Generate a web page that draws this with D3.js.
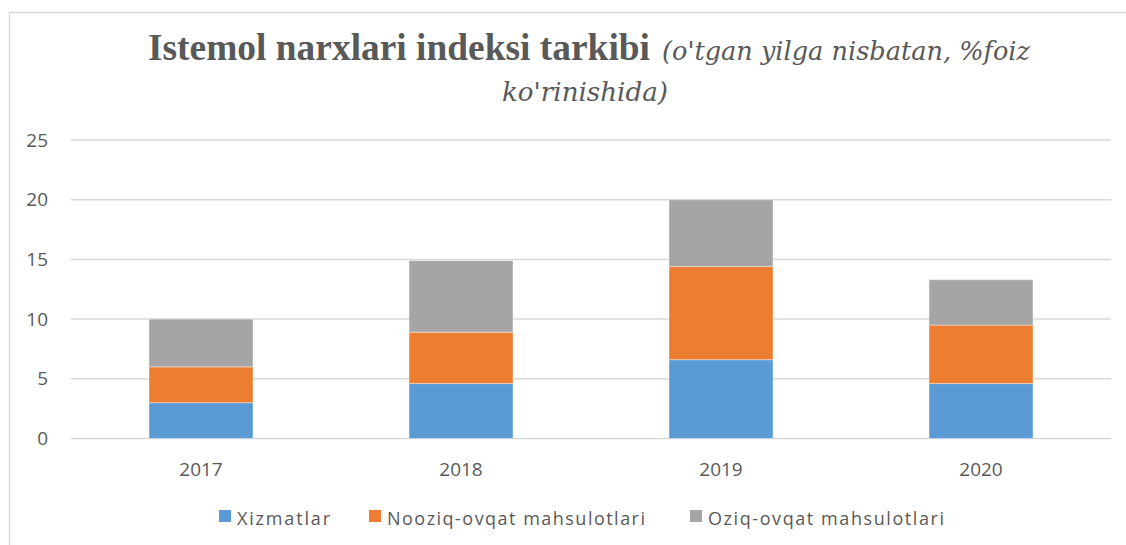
<!DOCTYPE html>
<html>
<head>
<meta charset="utf-8">
<script src="https://cdn.jsdelivr.net/npm/d3@7"></script>
<style>
  body { margin: 0; background: #fff; }
  svg { display: block; }
</style>
</head>
<body>
<div id="chart"></div>
<script>
// Chart data
var years = ["2017", "2018", "2019", "2020"];
var seriesNames = ["Xizmatlar", "Nooziq-ovqat mahsulotlari", "Oziq-ovqat mahsulotlari"];
var xizmatlar = [3.0, 4.6, 6.6, 4.6];
var nooziq = [3.0, 4.3, 7.8, 4.9];
var oziq = [4.0, 6.0, 5.6, 3.8];
var yTickValues = [0, 5, 10, 15, 20, 25];
var colors = ["#5B9BD5", "#ED7D31", "#A5A5A5"];

var width = 1126;
var height = 545;
var textColor = "#595959";
var gridColor = "#d9d9d9";
var serif = "'Liberation Serif', 'Times New Roman', serif";
var italicSerif = "'DejaVu Serif', 'Liberation Serif', serif";
var sans = "'Open Sans', sans-serif";

var svg = d3.select("#chart")
    .append("svg")
        .attr("width", width)
        .attr("height", height);

// chart area border (only top and left visible in the frame)
svg.append("path")
    .attr("d", "M9.5," + height + " V12.5 H" + width)
    .attr("fill", "none")
    .attr("stroke", gridColor)
    .attr("stroke-width", 1.5);

// title: bold part, then the italic part
svg.append("text")
    .attr("x", 148)
    .attr("y", 60)
    .attr("fill", textColor)
    .attr("font-family", serif)
    .attr("font-weight", "bold")
    .attr("font-size", 37)
    .attr("textLength", 502)
    .attr("lengthAdjust", "spacingAndGlyphs")
    .text("Istemol narxlari indeksi tarkibi");

var subtitle = [
    { text: "(o'tgan yilga nisbatan, %foiz", x: 662, y: 60, w: 368 },
    { text: "ko'rinishida)", x: 502, y: 101, w: 166 }
];
svg.selectAll(".subtitle")
    .data(subtitle)
    .enter().append("text")
        .attr("class", "subtitle")
        .attr("x", function(d) { return d.x; })
        .attr("y", function(d) { return d.y; })
        .attr("fill", textColor)
        .style("font-family", italicSerif)
        .style("font-style", "italic")
        .style("font-size", "26px")
        .attr("textLength", function(d) { return d.w; })
        .attr("lengthAdjust", "spacingAndGlyphs")
        .text(function(d) { return d.text; });

// scales
var x = d3.scaleBand()
    .domain(years)
    .range([71, 1111])
    .paddingInner(0.6)
    .paddingOuter(0.3);

var y = d3.scaleLinear()
    .domain([0, 25])
    .range([438.5, 140]);

// gridlines
svg.append("g")
    .selectAll("line")
    .data(yTickValues)
    .enter().append("line")
        .attr("x1", 71)
        .attr("x2", 1111)
        .attr("y1", function(d) { return y(d); })
        .attr("y2", function(d) { return y(d); })
        .attr("stroke", gridColor)
        .attr("stroke-width", 1.5);

// y axis labels
var yAxis = d3.axisLeft(y)
    .tickValues(yTickValues)
    .tickSize(0)
    .tickPadding(0);
var yG = svg.append("g")
    .attr("transform", "translate(48,0)")
    .call(yAxis);
yG.select(".domain").remove();
yG.selectAll("text")
    .attr("fill", textColor)
    .style("font-family", sans)
    .style("font-size", "19px");

// stacked bars
var rows = years.map(function(yr, i) {
    return { year: yr, a: xizmatlar[i], b: nooziq[i], c: oziq[i] };
});
var stack = d3.stack().keys(["a", "b", "c"]);
var layers = stack(rows);

svg.append("g")
    .selectAll("g")
    .data(layers)
    .enter().append("g")
        .attr("fill", function(d, i) { return colors[i]; })
    .selectAll("rect")
    .data(function(d) { return d; })
    .enter().append("rect")
        .attr("x", function(d) { return x(d.data.year); })
        .attr("width", x.bandwidth())
        .attr("y", function(d) { return y(d[1]); })
        .attr("height", function(d) { return y(d[0]) - y(d[1]); })
        .attr("stroke", "#ffffff")
        .attr("stroke-opacity", 0.4)
        .attr("stroke-width", 1);

// x axis labels
var xAxis = d3.axisBottom(x)
    .tickSize(0)
    .tickPadding(0);
var xG = svg.append("g")
    .attr("transform", "translate(0,462)")
    .call(xAxis);
xG.select(".domain").remove();
xG.selectAll("text")
    .attr("fill", textColor)
    .style("font-family", sans)
    .style("font-size", "19px");

// legend
var legendX = [219, 369, 690];
var legendW = [93, 258, 236];
var legend = svg.append("g")
    .selectAll("g")
    .data(seriesNames)
    .enter().append("g")
        .attr("transform", function(d, i) { return "translate(" + legendX[i] + ",510)"; });
legend.append("rect")
    .attr("width", 12)
    .attr("height", 12)
    .attr("fill", function(d, i) { return colors[i]; });
legend.append("text")
    .attr("x", 18)
    .attr("y", 15)
    .attr("fill", textColor)
    .attr("textLength", function(d, i) { return legendW[i]; })
    .attr("lengthAdjust", "spacing")
    .style("font-family", sans)
    .style("font-size", "18px")
    .text(function(d) { return d; });
</script>
</body>
</html>
